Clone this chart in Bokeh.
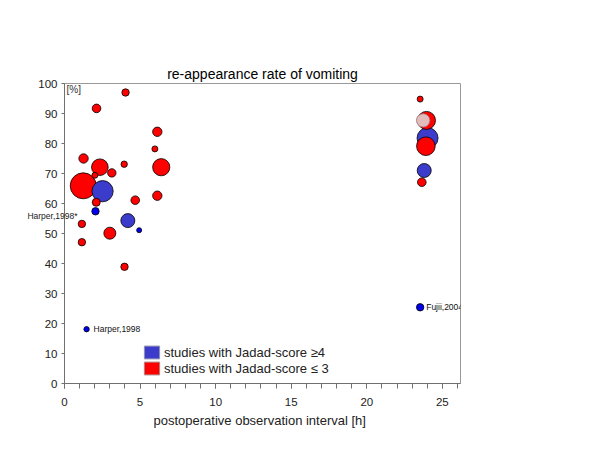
from bokeh.plotting import figure
from bokeh.models import (ColumnDataSource, Range1d, SingleIntervalTicker, FixedTicker, Label,
                          Legend, LegendItem, Title, LinearAxis)
from bokeh.embed import file_html
from bokeh.resources import INLINE

# ---- data ----
interval_h = [4.04, 2.12, 6.14, 5.98, 1.26, 2.34, 3.95, 6.40, 3.13, 2.01, 1.24, 2.52,
              4.68, 6.14, 2.10, 2.05, 4.19, 1.15, 4.94, 3.00, 1.15, 3.97, 1.46,
              23.53, 23.95, 23.73, 24.02, 23.91, 23.80, 23.64, 23.53]
rate_pct = [97.0, 91.7, 83.9, 78.2, 75.0, 72.1, 73.1, 72.1, 70.2, 69.4, 65.9, 64.1,
            61.1, 62.6, 60.4, 57.4, 54.3, 53.2, 51.1, 50.1, 47.1, 38.9, 18.1,
            94.8, 87.7, 87.7, 81.8, 79.1, 71.0, 67.1, 25.4]
study_n = [55, 74, 88, 36, 88, 276, 41, 296, 71, 36, 676, 449,
           74, 88, 64, 55, 196, 55, 25, 144, 55, 55, 29,
           36, 324, 180, 441, 346, 196, 74, 55]
jadad_group = ["low", "low", "low", "low", "low", "low", "low", "low", "low", "low", "low", "high",
               "low", "low", "low", "high", "high", "low", "high", "low", "low", "low", "high",
               "low", "low", "other", "high", "low", "high", "low", "high"]

y_ticks = [0, 10, 20, 30, 40, 50, 60, 70, 80, 90, 100]
X_MAX, Y_MAX = 26.2, 100

# study labels: text, x, y
outside_label = ("Harper,1998*", 56)
inside_labels = [
    ("Harper,1998", 1.92, 18.3),
    ("Fujii,2004", 23.93, 25.4),
]
legend_labels = ["studies with Jadad-score \u22654", "studies with Jadad-score \u2264 3"]
title_text = "re-appearance rate of vomiting"
x_label = "postoperative observation interval [h]"
unit_label = "[%]"

FONT = "Liberation Sans"
RED = "#ff0000"
BLUE_BIG = "#3c3ccc"
BLUE_SMALL = "#0000ee"
PINK = "#e4bcbc"

# ---- layout ----
BL, BR, BT, BB = 64, 132, 83, 59
W, H = 592, 442

# ---- build styled table ----
order = sorted(range(len(study_n)), key=lambda i: -study_n[i])
xs, ys, ds, fills, lines = [], [], [], [], []
for i in order:
    xs.append(interval_h[i])
    ys.append(rate_pct[i])
    ds.append(study_n[i] ** 0.5)
    g = jadad_group[i]
    if g == "low":
        fills.append(RED)
        lines.append("#000000")
    elif g == "high":
        fills.append(BLUE_SMALL if study_n[i] < 100 else BLUE_BIG)
        lines.append("#000000")
    else:
        fills.append(PINK)
        lines.append("#a07070")
src = ColumnDataSource(dict(x=xs, y=ys, d=ds, fill=fills, line=lines))

p = figure(width=W, height=H, output_backend="svg", toolbar_location=None,
           x_range=Range1d(0, X_MAX), y_range=Range1d(0, Y_MAX),
           min_border_left=BL, min_border_right=BR, min_border_top=BT, min_border_bottom=BB)
p.background_fill_color = "white"
p.border_fill_color = "white"
p.outline_line_color = "#999999"
p.outline_line_width = 1
p.xgrid.visible = False
p.ygrid.visible = False

p.title.text = title_text
p.title.align = "center"
p.title.text_font = FONT
p.title.text_font_size = "14px"
p.title.text_font_style = "normal"
p.title.text_color = "#000000"
p.title.standoff = 3

p.scatter("x", "y", size="d", source=src, fill_color="fill", line_color="line",
          line_width=0.8, marker="circle")

# axes
for ax in (p.xaxis[0], p.yaxis[0]):
    ax.axis_line_color = "#707070"
    ax.major_tick_line_color = "#707070"
    ax.minor_tick_line_color = "#707070"
    ax.major_label_text_font = FONT
    ax.major_label_text_font_size = "11.5px"
    ax.major_label_text_color = "#222222"
    ax.major_tick_in = 0
    ax.minor_tick_in = 0

p.xaxis.ticker = SingleIntervalTicker(interval=5, num_minor_ticks=5)
p.xaxis.major_tick_out = 5
p.xaxis.minor_tick_out = 5
p.xaxis.major_label_standoff = 9

p.yaxis.ticker = FixedTicker(ticks=y_ticks)
p.yaxis.major_tick_out = 3
p.yaxis.minor_tick_out = 0
p.yaxis.major_label_standoff = 4

# x axis label, placed slightly left of centre as in the reference
p.add_layout(Title(text=x_label, align="left", offset=89, standoff=4,
                   text_font=FONT, text_font_size="13px", text_font_style="normal",
                   text_color="#222222"), "below")

# study label that crosses the y axis: an unclipped, line-less outer guide whose
# single tick label is pulled back over the main axis
txt, ly = outside_label
tag_axis = LinearAxis(ticker=FixedTicker(ticks=[ly], minor_ticks=[]),
                      major_label_overrides={ly: txt},
                      axis_line_alpha=0, major_tick_line_alpha=0, minor_tick_line_alpha=0,
                      major_tick_in=0, major_tick_out=0, minor_tick_in=0, minor_tick_out=0,
                      major_label_standoff=-42, major_label_text_font=FONT,
                      major_label_text_font_size="8.5px", major_label_text_color="#222222")
p.add_layout(tag_axis, "left")

p.add_layout(Label(x=0.13, y=98.0, text=unit_label,
                   text_align="left", text_baseline="middle",
                   text_font=FONT, text_font_size="10px", text_color="#333333"))

for txt, lx, ly in inside_labels:
    p.add_layout(Label(x=lx, y=ly, text=txt, text_align="left", text_baseline="middle",
                       text_font=FONT, text_font_size="8.5px", text_color="#111111"))

# legend
nan = float("nan")
r_hi = p.quad(left=[nan], right=[nan], top=[nan], bottom=[nan], fill_color=BLUE_BIG, line_color="#9090b0")
r_lo = p.quad(left=[nan], right=[nan], top=[nan], bottom=[nan], fill_color=RED, line_color="#b08080")
legend = Legend(items=[LegendItem(label=legend_labels[0], renderers=[r_hi]),
                       LegendItem(label=legend_labels[1], renderers=[r_lo])],
                location=(78, 7), orientation="vertical",
                glyph_width=19, glyph_height=16, label_standoff=3, spacing=0,
                padding=0, margin=0, border_line_alpha=0, background_fill_alpha=0,
                label_text_font=FONT, label_text_font_size="13px", label_text_color="#222222")
p.add_layout(legend, "center")

open("out.html", "w").write(file_html(p, INLINE))
